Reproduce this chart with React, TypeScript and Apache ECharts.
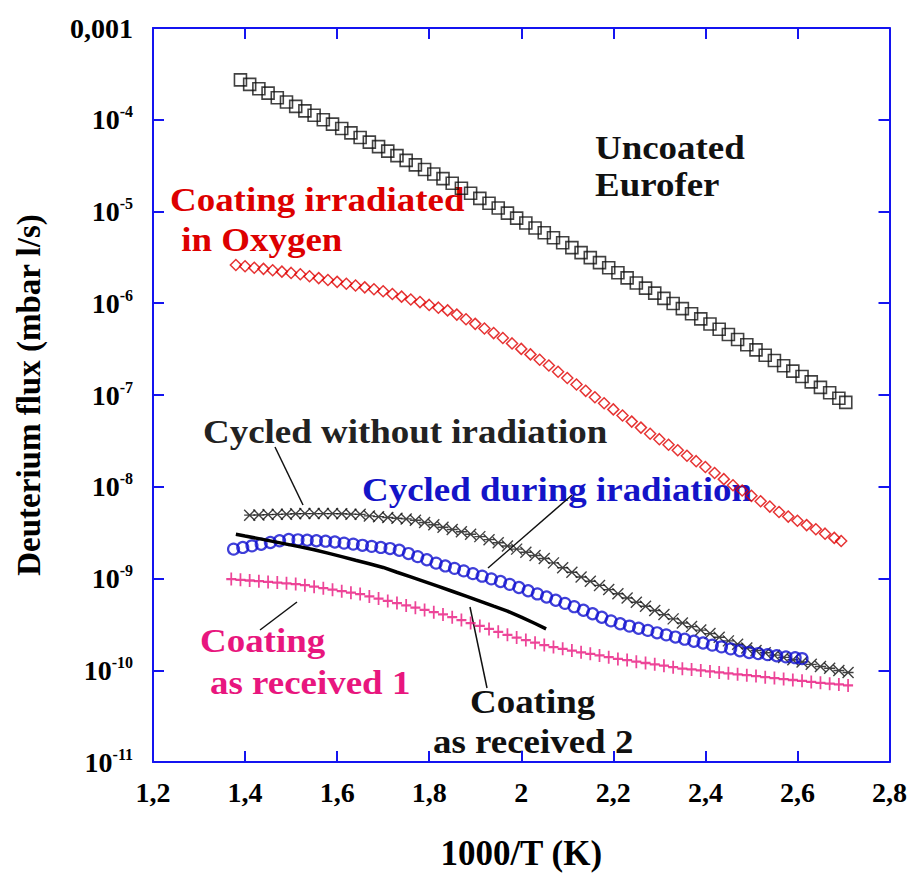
import React, { useEffect, useRef } from 'react';
import * as echarts from 'echarts';

// ---- tick labels ----
const xTickLabels = ['1,2', '1,4', '1,6', '1,8', '2', '2,2', '2,4', '2,6', '2,8'];
const yTickLabels: Record<string, string> = {
  '-3': '0,001',
  '-4': '{b|10}{s|-4}',
  '-5': '{b|10}{s|-5}',
  '-6': '{b|10}{s|-6}',
  '-7': '{b|10}{s|-7}',
  '-8': '{b|10}{s|-8}',
  '-9': '{b|10}{s|-9}',
  '-10': '{b|10}{s|-10}',
  '-11': '{b|10}{s|-11}',
};

// ---- Uncoated Eurofer (open squares) ----
const uncoatedX = [1.39, 1.41, 1.43, 1.45, 1.47, 1.49, 1.51, 1.53, 1.55, 1.57, 1.59, 1.61, 1.63, 1.65, 1.67, 1.69, 1.71, 1.73, 1.75, 1.77, 1.79, 1.81, 1.83, 1.85, 1.87, 1.89, 1.91, 1.93, 1.95, 1.97, 1.99, 2.01, 2.03, 2.05, 2.07, 2.09, 2.11, 2.13, 2.15, 2.17, 2.19, 2.21, 2.23, 2.25, 2.27, 2.29, 2.31, 2.33, 2.35, 2.37, 2.39, 2.41, 2.43, 2.45, 2.47, 2.49, 2.51, 2.53, 2.55, 2.57, 2.59, 2.61, 2.63, 2.65, 2.67, 2.69, 2.705];
const uncoatedY = [2.72e-4, 2.43e-4, 2.18e-4, 1.95e-4, 1.74e-4, 1.56e-4, 1.40e-4, 1.25e-4, 1.12e-4, 1.00e-4, 8.97e-5, 8.04e-5, 7.19e-5, 6.41e-5, 5.71e-5, 5.09e-5, 4.55e-5, 4.06e-5, 3.61e-5, 3.22e-5, 2.87e-5, 2.56e-5, 2.28e-5, 2.03e-5, 1.79e-5, 1.58e-5, 1.39e-5, 1.23e-5, 1.09e-5, 9.59e-6, 8.47e-6, 7.50e-6, 6.62e-6, 5.86e-6, 5.18e-6, 4.57e-6, 4.04e-6, 3.56e-6, 3.14e-6, 2.77e-6, 2.44e-6, 2.15e-6, 1.89e-6, 1.66e-6, 1.46e-6, 1.29e-6, 1.13e-6, 9.93e-7, 8.73e-7, 7.67e-7, 6.75e-7, 5.93e-7, 5.21e-7, 4.57e-7, 4.02e-7, 3.53e-7, 3.10e-7, 2.71e-7, 2.38e-7, 2.08e-7, 1.82e-7, 1.59e-7, 1.39e-7, 1.21e-7, 1.06e-7, 9.23e-8, 8.32e-8];

// ---- Coating irradiated in Oxygen (open diamonds) ----
const oxygenX = [1.38, 1.40, 1.42, 1.44, 1.46, 1.48, 1.50, 1.52, 1.54, 1.56, 1.58, 1.60, 1.62, 1.64, 1.66, 1.68, 1.70, 1.72, 1.74, 1.76, 1.78, 1.80, 1.82, 1.84, 1.86, 1.88, 1.90, 1.92, 1.94, 1.96, 1.98, 2.00, 2.02, 2.04, 2.06, 2.08, 2.10, 2.12, 2.14, 2.16, 2.18, 2.20, 2.22, 2.24, 2.26, 2.28, 2.30, 2.32, 2.34, 2.36, 2.38, 2.40, 2.42, 2.44, 2.46, 2.48, 2.50, 2.52, 2.54, 2.56, 2.58, 2.60, 2.62, 2.64, 2.66, 2.68, 2.695];
const oxygenY = [2.61e-6, 2.53e-6, 2.44e-6, 2.37e-6, 2.29e-6, 2.21e-6, 2.14e-6, 2.07e-6, 1.97e-6, 1.88e-6, 1.79e-6, 1.71e-6, 1.63e-6, 1.56e-6, 1.49e-6, 1.42e-6, 1.35e-6, 1.26e-6, 1.18e-6, 1.10e-6, 1.03e-6, 9.59e-7, 8.95e-7, 8.36e-7, 7.52e-7, 6.70e-7, 5.96e-7, 5.31e-7, 4.73e-7, 4.18e-7, 3.65e-7, 3.18e-7, 2.77e-7, 2.42e-7, 2.10e-7, 1.79e-7, 1.53e-7, 1.30e-7, 1.11e-7, 9.46e-8, 8.13e-8, 6.97e-8, 5.98e-8, 5.13e-8, 4.41e-8, 3.78e-8, 3.30e-8, 2.87e-8, 2.50e-8, 2.18e-8, 1.90e-8, 1.64e-8, 1.41e-8, 1.21e-8, 1.04e-8, 9.10e-9, 7.96e-9, 6.95e-9, 6.08e-9, 5.31e-9, 4.73e-9, 4.26e-9, 3.82e-9, 3.44e-9, 3.08e-9, 2.77e-9, 2.56e-9];

// ---- Cycled without iradiation (black crosses) ----
const cycledNoIrrX = [1.41, 1.43, 1.45, 1.47, 1.49, 1.51, 1.53, 1.55, 1.57, 1.59, 1.61, 1.63, 1.65, 1.67, 1.69, 1.71, 1.73, 1.75, 1.77, 1.79, 1.81, 1.83, 1.85, 1.87, 1.89, 1.91, 1.93, 1.95, 1.97, 1.99, 2.01, 2.03, 2.05, 2.07, 2.09, 2.11, 2.13, 2.15, 2.17, 2.19, 2.21, 2.23, 2.25, 2.27, 2.29, 2.31, 2.33, 2.35, 2.37, 2.39, 2.41, 2.43, 2.45, 2.47, 2.49, 2.51, 2.53, 2.55, 2.57, 2.59, 2.61, 2.63, 2.65, 2.67, 2.69, 2.71];
const cycledNoIrrY = [4.9e-9, 4.93e-9, 4.97e-9, 5.0e-9, 5.03e-9, 5.07e-9, 5.1e-9, 5.1e-9, 5.1e-9, 5.1e-9, 5.07e-9, 5.03e-9, 5.0e-9, 4.81e-9, 4.72e-9, 4.62e-9, 4.54e-9, 4.46e-9, 4.32e-9, 4.07e-9, 3.85e-9, 3.62e-9, 3.42e-9, 3.23e-9, 3.04e-9, 2.86e-9, 2.65e-9, 2.45e-9, 2.26e-9, 2.09e-9, 1.93e-9, 1.78e-9, 1.65e-9, 1.48e-9, 1.31e-9, 1.17e-9, 1.04e-9, 9.35e-10, 8.41e-10, 7.57e-10, 6.81e-10, 6.14e-10, 5.52e-10, 4.98e-10, 4.48e-10, 4.04e-10, 3.63e-10, 3.27e-10, 2.99e-10, 2.74e-10, 2.51e-10, 2.29e-10, 2.09e-10, 1.92e-10, 1.75e-10, 1.64e-10, 1.55e-10, 1.46e-10, 1.38e-10, 1.30e-10, 1.23e-10, 1.16e-10, 1.10e-10, 1.05e-10, 9.95e-11, 9.46e-11];

// ---- Cycled during iradiation (blue circles) ----
const cycledIrrX = [1.375, 1.395, 1.415, 1.435, 1.455, 1.475, 1.495, 1.515, 1.535, 1.555, 1.575, 1.595, 1.615, 1.635, 1.655, 1.675, 1.695, 1.715, 1.735, 1.755, 1.775, 1.795, 1.815, 1.835, 1.855, 1.875, 1.895, 1.915, 1.935, 1.955, 1.975, 1.995, 2.015, 2.035, 2.055, 2.075, 2.095, 2.115, 2.135, 2.155, 2.175, 2.195, 2.215, 2.235, 2.255, 2.275, 2.295, 2.315, 2.335, 2.355, 2.375, 2.395, 2.415, 2.435, 2.455, 2.475, 2.495, 2.515, 2.535, 2.555, 2.575, 2.595, 2.61];
const cycledIrrY = [2.09e-9, 2.18e-9, 2.27e-9, 2.36e-9, 2.47e-9, 2.58e-9, 2.66e-9, 2.64e-9, 2.61e-9, 2.58e-9, 2.55e-9, 2.50e-9, 2.43e-9, 2.37e-9, 2.30e-9, 2.24e-9, 2.18e-9, 2.12e-9, 2.03e-9, 1.87e-9, 1.73e-9, 1.60e-9, 1.47e-9, 1.37e-9, 1.29e-9, 1.21e-9, 1.13e-9, 1.06e-9, 9.91e-10, 9.27e-10, 8.63e-10, 7.98e-10, 7.36e-10, 6.79e-10, 6.28e-10, 5.79e-10, 5.36e-10, 4.93e-10, 4.51e-10, 4.13e-10, 3.78e-10, 3.45e-10, 3.21e-10, 3.03e-10, 2.87e-10, 2.72e-10, 2.56e-10, 2.43e-10, 2.30e-10, 2.18e-10, 2.07e-10, 1.98e-10, 1.88e-10, 1.80e-10, 1.71e-10, 1.63e-10, 1.56e-10, 1.52e-10, 1.48e-10, 1.44e-10, 1.40e-10, 1.37e-10, 1.34e-10];

// ---- Coating as received 2 (black line) ----
const received2X = [1.38, 1.40, 1.43, 1.46, 1.49, 1.52, 1.55, 1.58, 1.61, 1.64, 1.67, 1.70, 1.73, 1.76, 1.79, 1.82, 1.85, 1.88, 1.91, 1.94, 1.97, 2.00, 2.03, 2.054];
const received2Y = [3.03e-9, 2.90e-9, 2.72e-9, 2.54e-9, 2.37e-9, 2.21e-9, 2.06e-9, 1.89e-9, 1.73e-9, 1.58e-9, 1.45e-9, 1.32e-9, 1.17e-9, 1.04e-9, 9.24e-10, 8.20e-10, 7.26e-10, 6.41e-10, 5.66e-10, 4.99e-10, 4.41e-10, 3.79e-10, 3.23e-10, 2.83e-10];

// ---- Coating as received 1 (magenta plus) ----
const received1X = [1.37, 1.39, 1.41, 1.43, 1.45, 1.47, 1.49, 1.51, 1.53, 1.55, 1.57, 1.59, 1.61, 1.63, 1.65, 1.67, 1.69, 1.71, 1.73, 1.75, 1.77, 1.79, 1.81, 1.83, 1.85, 1.87, 1.89, 1.91, 1.93, 1.95, 1.97, 1.99, 2.01, 2.03, 2.05, 2.07, 2.09, 2.11, 2.13, 2.15, 2.17, 2.19, 2.21, 2.23, 2.25, 2.27, 2.29, 2.31, 2.33, 2.35, 2.37, 2.39, 2.41, 2.43, 2.45, 2.47, 2.49, 2.51, 2.53, 2.55, 2.57, 2.59, 2.61, 2.63, 2.65, 2.67, 2.69, 2.71];
const received1Y = [9.86e-10, 9.68e-10, 9.51e-10, 9.35e-10, 9.18e-10, 9.02e-10, 8.85e-10, 8.69e-10, 8.45e-10, 8.15e-10, 7.85e-10, 7.55e-10, 7.28e-10, 7.01e-10, 6.76e-10, 6.38e-10, 6.04e-10, 5.70e-10, 5.40e-10, 5.09e-10, 4.81e-10, 4.55e-10, 4.30e-10, 4.06e-10, 3.79e-10, 3.52e-10, 3.27e-10, 3.04e-10, 2.82e-10, 2.62e-10, 2.43e-10, 2.27e-10, 2.13e-10, 2.00e-10, 1.88e-10, 1.79e-10, 1.71e-10, 1.64e-10, 1.57e-10, 1.51e-10, 1.45e-10, 1.39e-10, 1.33e-10, 1.29e-10, 1.24e-10, 1.20e-10, 1.16e-10, 1.12e-10, 1.08e-10, 1.04e-10, 1.02e-10, 9.95e-11, 9.71e-11, 9.48e-11, 9.27e-11, 9.04e-11, 8.83e-11, 8.63e-11, 8.41e-11, 8.22e-11, 8.02e-11, 7.83e-11, 7.66e-11, 7.46e-11, 7.29e-11, 7.14e-11, 7.00e-11, 6.84e-11];

const zip = (xs: number[], ys: number[]) => xs.map((x, i) => [x, ys[i]]);

const FONT = 'Liberation Serif';
const AXIS_BLUE = '#1414f0';

function textEl(text: string, x: number, y: number, color: string, size = 33) {
  return {
    type: 'text',
    x,
    y,
    scaleX: 1.12,
    style: {
      text,
      fill: color,
      fontFamily: FONT,
      fontWeight: 'bold',
      fontSize: size,
      align: 'left',
      verticalAlign: 'middle',
    },
  };
}

function lineEl(x1: number, y1: number, x2: number, y2: number) {
  return {
    type: 'line',
    shape: { x1, y1, x2, y2 },
    style: { stroke: '#111', lineWidth: 1.5 },
  };
}

export default function App() {
  const ref = useRef<HTMLDivElement>(null);

  useEffect(() => {
    if (!ref.current) return;
    const chart = echarts.init(ref.current, undefined, { renderer: 'svg' });

    const xLabelFmt = (v: number) => {
      const i = Math.round((v - 1.2) / 0.2);
      return xTickLabels[i] ?? '';
    };
    const yLabelFmt = (v: number) => {
      const e = Math.round(Math.log10(v));
      return yTickLabels[String(e)] ?? '';
    };

    const commonX = {
      type: 'value',
      min: 1.2,
      max: 2.8,
      interval: 0.2,
      splitLine: { show: false },
      axisLine: { show: true, onZero: false, lineStyle: { color: AXIS_BLUE, width: 2 } },
      axisTick: { show: true, inside: true, length: 11, lineStyle: { color: AXIS_BLUE, width: 2 } },
    };
    const commonY = {
      type: 'log',
      logBase: 10,
      min: 1e-11,
      max: 1e-3,
      splitLine: { show: false },
      minorTick: { show: false },
      axisLine: { show: true, onZero: false, lineStyle: { color: AXIS_BLUE, width: 2 } },
      axisTick: { show: true, inside: true, length: 11, lineStyle: { color: AXIS_BLUE, width: 2 } },
    };

    chart.setOption({
      animation: false,
      backgroundColor: '#ffffff',
      grid: { left: 153, right: 19, top: 28, bottom: 109, containLabel: false },
      xAxis: [
        {
          ...commonX,
          position: 'bottom',
          name: '1000/T (K)',
          nameLocation: 'middle',
          nameGap: 74,
          nameTextStyle: { fontFamily: FONT, fontWeight: 'bold', fontSize: 35, color: '#000' },
          axisLabel: {
            formatter: xLabelFmt,
            margin: 16,
            fontFamily: FONT,
            fontWeight: 'bold',
            fontSize: 28,
            color: '#000',
          },
        },
        {
          ...commonX,
          position: 'top',
          axisLabel: { show: false },
        },
      ],
      yAxis: [
        {
          ...commonY,
          position: 'left',
          name: 'Deuterium flux (mbar l/s)',
          nameLocation: 'middle',
          nameRotate: 90,
          nameGap: 108,
          nameTextStyle: { fontFamily: FONT, fontWeight: 'bold', fontSize: 33, color: '#000' },
          axisLabel: {
            formatter: yLabelFmt,
            margin: 20,
            fontFamily: FONT,
            fontWeight: 'bold',
            fontSize: 28,
            color: '#000',
            rich: {
              b: { fontFamily: FONT, fontWeight: 'bold', fontSize: 28, color: '#000', lineHeight: 32 },
              s: { fontFamily: FONT, fontWeight: 'bold', fontSize: 16, color: '#000', verticalAlign: 'top', lineHeight: 15 },
            },
          },
        },
        {
          ...commonY,
          position: 'right',
          axisLabel: { show: false },
        },
      ],
      series: [
        {
          name: 'Uncoated Eurofer',
          type: 'scatter',
          data: zip(uncoatedX, uncoatedY),
          symbol: 'rect',
          symbolSize: 12,
          itemStyle: { color: 'none', borderColor: '#111', borderWidth: 1.6 },
        },
        {
          name: 'Coating irradiated in Oxygen',
          type: 'scatter',
          data: zip(oxygenX, oxygenY),
          symbol: 'diamond',
          symbolSize: 11,
          itemStyle: { color: 'none', borderColor: '#e00000', borderWidth: 1.5 },
        },
        {
          name: 'Cycled without iradiation',
          type: 'scatter',
          data: zip(cycledNoIrrX, cycledNoIrrY),
          symbol: 'path://M0,0L10,10M10,0L0,10M0,5L10,5',
          symbolSize: 11,
          itemStyle: { color: 'none', borderColor: '#111', borderWidth: 1.4 },
        },
        {
          name: 'Cycled during iradiation',
          type: 'scatter',
          data: zip(cycledIrrX, cycledIrrY),
          symbol: 'circle',
          symbolSize: 11,
          itemStyle: { color: 'none', borderColor: '#1010d0', borderWidth: 2.2 },
        },
        {
          name: 'Coating as received 2',
          type: 'line',
          data: zip(received2X, received2Y),
          showSymbol: false,
          symbol: 'none',
          lineStyle: { color: '#000', width: 3.5 },
        },
        {
          name: 'Coating as received 1',
          type: 'scatter',
          data: zip(received1X, received1Y),
          symbol: 'path://M5,0L5,10M0,5L10,5',
          symbolSize: [10, 13],
          itemStyle: { color: 'none', borderColor: '#e8167e', borderWidth: 2 },
        },
      ],
      graphic: [
        textEl('Uncoated', 595, 148, '#111'),
        textEl('Eurofer', 595, 185, '#111'),
        textEl('Coating irradiated', 170, 200, '#dd0000'),
        textEl(' in Oxygen', 172, 240, '#dd0000'),
        textEl('Cycled without iradiation', 203, 432, '#222'),
        textEl('Cycled during iradiation', 362, 490, '#1414c8'),
        textEl('Coating', 200, 641, '#e8167e'),
        textEl('as received 1', 210, 683, '#e8167e'),
        textEl('Coating', 470, 702, '#111'),
        textEl('as received 2', 433, 742, '#111'),
        lineEl(275, 447, 303, 505),
        lineEl(572, 495, 488, 568),
        lineEl(297, 602, 260, 630),
        lineEl(470, 607, 487, 688),
      ],
    });

    return () => chart.dispose();
  }, []);

  return (
    <div
      ref={ref}
      style={{ position: 'fixed', left: 0, top: 0, width: 910, height: 876, background: '#fff' }}
    />
  );
}
